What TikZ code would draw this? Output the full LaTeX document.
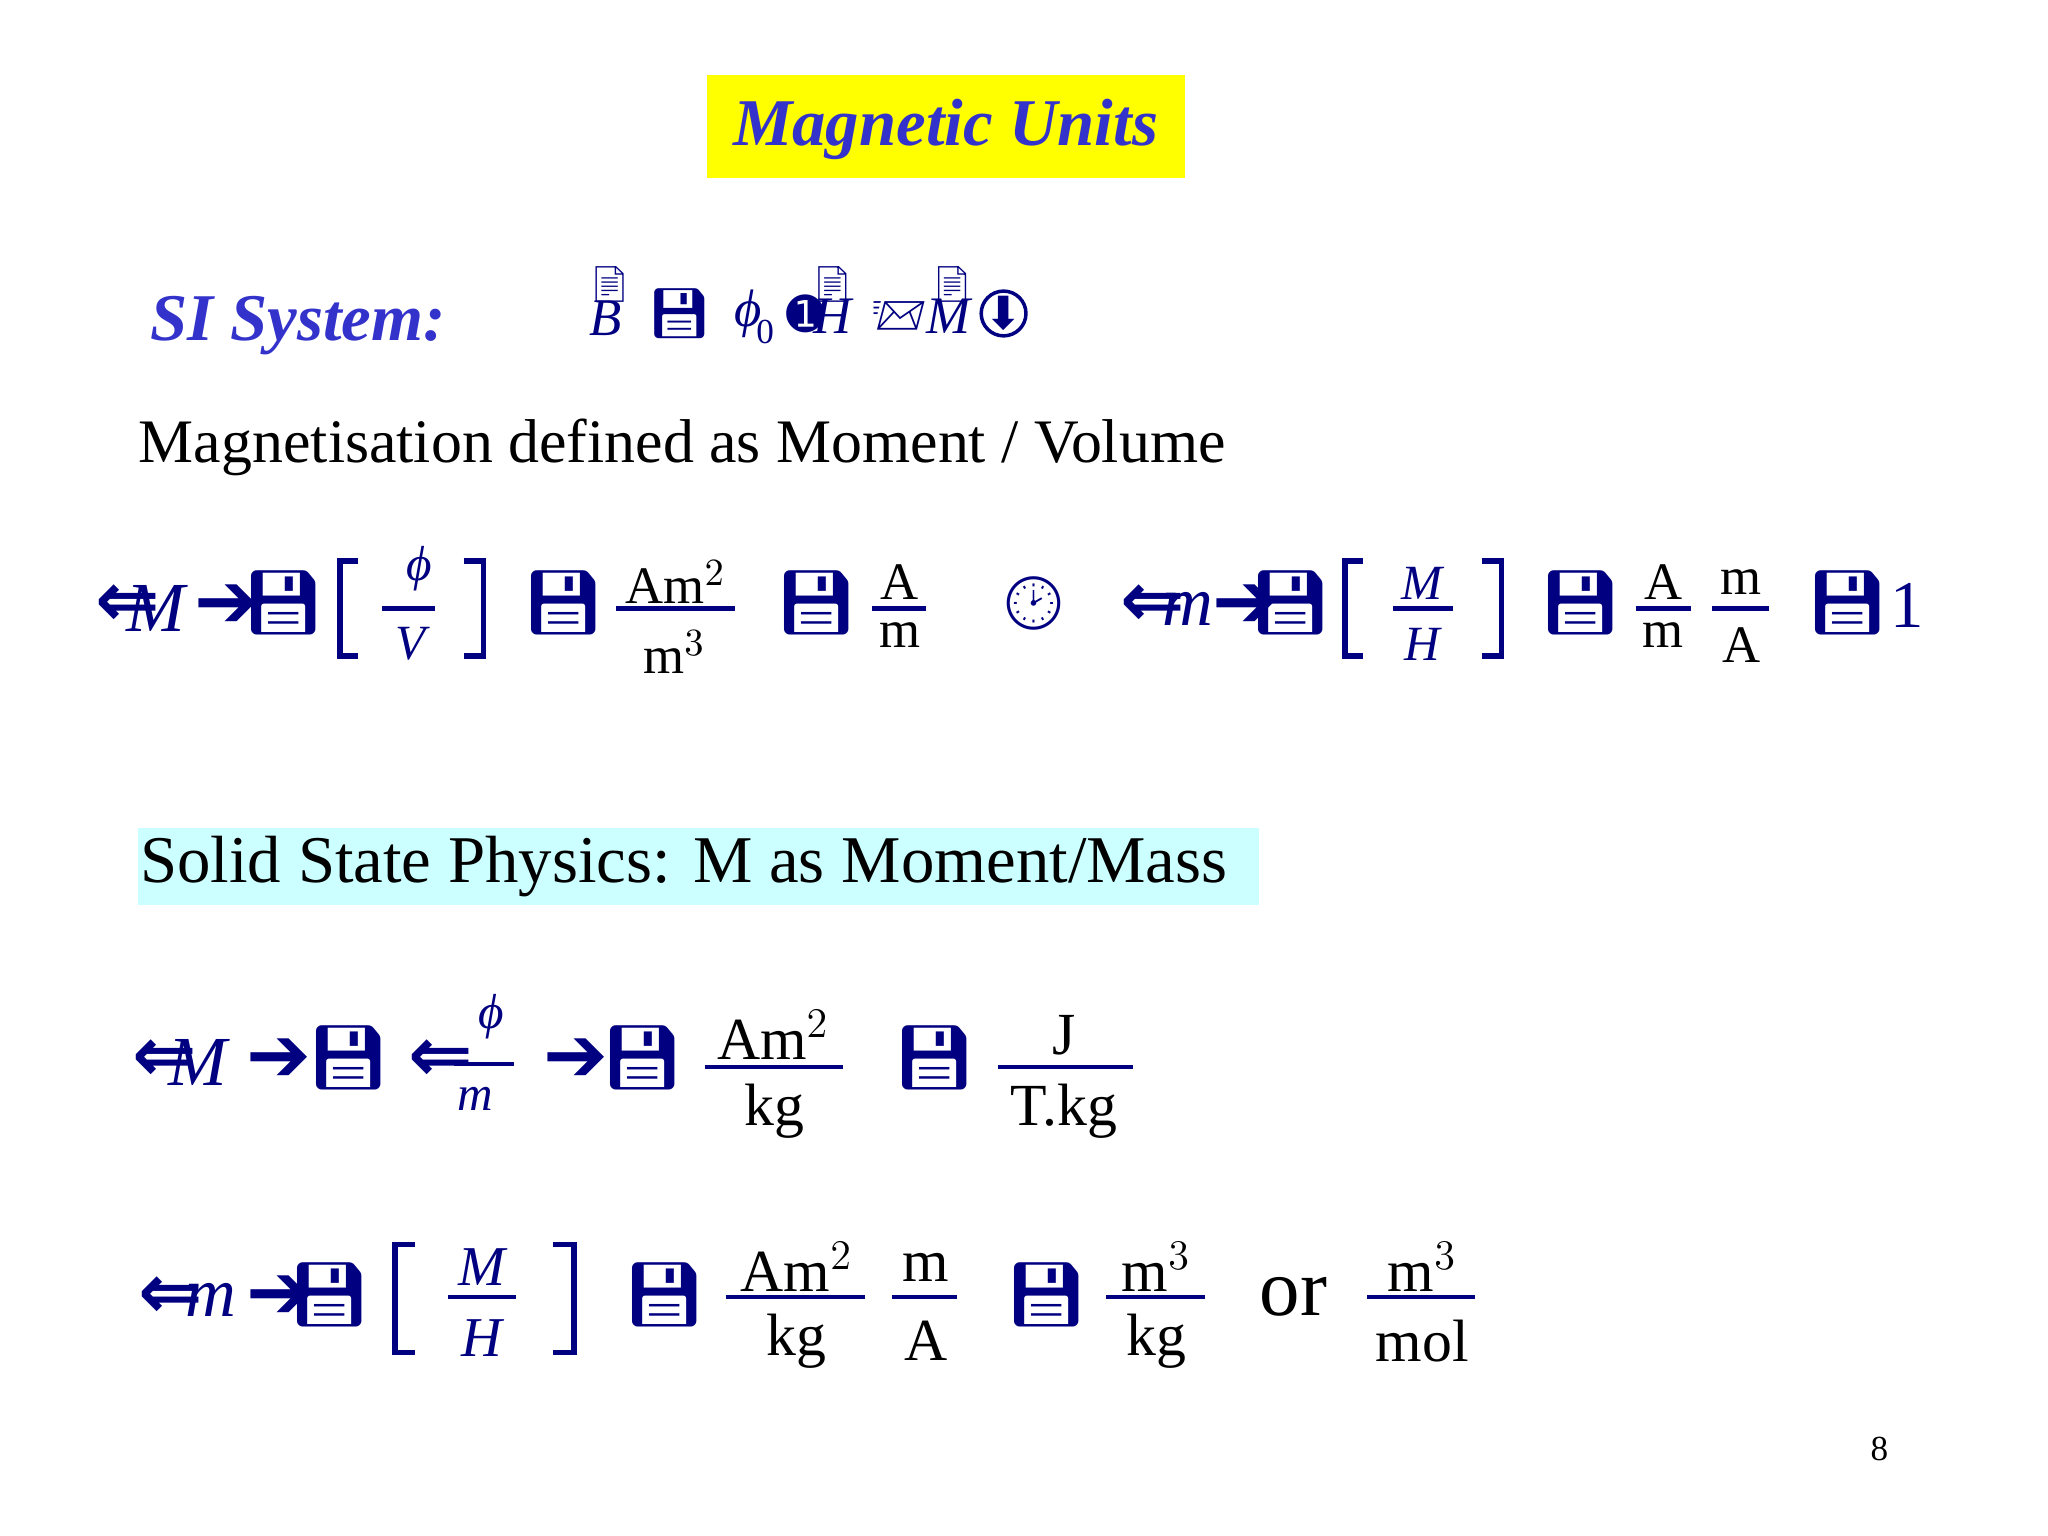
\documentclass[tikz,border=0pt]{standalone}
\usepackage{fontspec}
\setmainfont{Liberation Serif}
\newfontfamily\emo{Noto Emoji}
\newfontfamily\dv{DejaVu Sans}
\definecolor{nv}{RGB}{0,0,128}
\definecolor{tb}{RGB}{51,51,204}
\definecolor{yl}{RGB}{255,255,0}
\definecolor{cy}{RGB}{204,255,255}
\begin{document}
\begin{tikzpicture}[x=0.01317cm,y=-0.01317cm,
 fl/.style={text=nv,inner sep=0pt,font=\emo\fontsize{18}{18}\selectfont},
 fa/.style={text=nv,inner sep=0pt,font=\fontsize{14}{14}\selectfont},
 fb/.style={text=black,inner sep=0pt,font=\fontsize{17}{17}\selectfont},
 fc/.style={text=black,inner sep=0pt,font=\fontsize{15}{15}\selectfont},
 ar/.style={text=nv,inner sep=0pt,font=\dv\bfseries\fontsize{22}{22}\selectfont},
 mi/.style={text=nv,inner sep=0pt,font=\itshape\fontsize{20}{20}\selectfont},
 fr/.style={nv,line width=1.2pt},
 br/.style={nv,line width=1.6pt}]
\useasboundingbox (0,0) rectangle (1555,1166);
% title
\fill[yl] (537,57) rectangle (900,135);
\node[text=tb,font=\bfseries\itshape\fontsize{19}{19}\selectfont] (title) at (718,98) {Magnetic Units};
\node[anchor=west,text=tb,font=\bfseries\itshape\fontsize{19}{19}\selectfont] (si) at (105,247) {SI System:};
% garbled SI formula
\node[mi,font=\itshape\fontsize{15}{15}\selectfont] (b) at (460,242) {B};
\node[fl,font=\emo\fontsize{10}{10}\selectfont] (d1) at (463,216) {📄};
\node[fl,font=\emo\fontsize{14}{14}\selectfont] (f0) at (516,238) {💾};
\node[mi,font=\itshape\fontsize{15}{15}\selectfont] (mu) at (568,238) {ϕ};
\node[text=nv,inner sep=0pt,font=\fontsize{10}{10}\selectfont] (z) at (581,252) {0};
\node[ar,font=\dv\fontsize{13}{13}\selectfont] (o1) at (612,238) {➊};
\node[mi,font=\itshape\fontsize{15}{15}\selectfont] (h) at (632,240) {H};
\node[fl,font=\emo\fontsize{10}{10}\selectfont] (d2) at (632,216) {📄};
\node[fl,font=\emo\fontsize{13}{13}\selectfont] (d3) at (683,240) {📨};
\node[mi,font=\itshape\fontsize{15}{15}\selectfont] (m0) at (720,240) {M};
\node[fl,font=\emo\fontsize{10}{10}\selectfont] (d4) at (723,216) {📄};
\node[ar,font=\dv\fontsize{13}{13}\selectfont] (o2) at (762,238) {⬇};
\draw[nv,line width=1pt] (762,238) circle (17);
% text
\node[fb,anchor=west,font=\fontsize{17.6}{17.6}\selectfont] (mag) at (105,340) {Magnetisation defined as Moment / Volume};
% row 1
\node[ar] (a1) at (97,460) {⇐};
\node[mi] (a1m) at (118,462) {M};
\node[ar] (a1r) at (172,460) {➔};
\node[fl] (f1) at (215,458) {💾};
\draw[br] (272,426) -- (258,426) -- (258,498) -- (272,498);
\node[fa] (p1) at (318,432) {\itshape ϕ};
\draw[fr] (290,462) -- (330,462);
\node[fa] (v1) at (312,489) {\itshape V};
\draw[br] (352,426) -- (367,426) -- (367,498) -- (352,498);
\node[fl] (f2) at (428,458) {💾};
\node[fc] (n1) at (513,442) {Am$^2$};
\draw[fr] (468,462) -- (558,462);
\node[fc] (d1b) at (512,495) {m$^3$};
\node[fl] (f3) at (620,458) {💾};
\node[fc] (n2) at (683,442) {A};
\draw[fr] (662,462) -- (703,462);
\node[fc] (d2b) at (683,482) {m};
\node[fl,font=\emo\fontsize{15}{15}\selectfont] (clk) at (785,458) {🕑};
\node[ar] (a2) at (875,460) {⇐};
\node[mi] (a2m) at (902,462) {m};
\node[ar] (a2r) at (945,460) {➔};
\node[fl] (f4) at (980,458) {💾};
\draw[br] (1035,426) -- (1021,426) -- (1021,498) -- (1035,498);
\node[fa] (m1) at (1080,443) {\itshape M};
\draw[fr] (1058,462) -- (1103,462);
\node[fa] (h1) at (1080,489) {\itshape H};
\draw[br] (1125,426) -- (1140,426) -- (1140,498) -- (1125,498);
\node[fl] (f5) at (1200,458) {💾};
\node[fc] (n3) at (1263,442) {A};
\draw[fr] (1242,462) -- (1284,462);
\node[fc] (d3b) at (1263,482) {m};
\node[fc] (n4) at (1322,442) {m};
\draw[fr] (1300,462) -- (1343,462);
\node[fc] (d4b) at (1322,490) {A};
\node[fl] (f6) at (1403,458) {💾};
\node[mi,font=\fontsize{19}{19}\selectfont] (one) at (1448,460) {1};
% solid state
\fill[cy] (105,629) rectangle (956,687);
\node[fb,anchor=west,font=\fontsize{19}{19}\selectfont] (ss) at (106,658) {Solid State Physics: M as Moment/Mass};
% row 2
\node[ar] (b1) at (125,805) {⇐};
\node[mi] (b1m) at (150,807) {M};
\node[ar] (b1r) at (212,805) {➔};
\node[fl] (g1) at (265,803) {💾};
\node[ar] (b2) at (335,805) {⇐};
\node[fa] (p2) at (373,772) {\itshape ϕ};
\draw[fr] (345,808) -- (390,808);
\node[fa] (m2) at (361,834) {\itshape m};
\node[ar] (b2r) at (437,805) {➔};
\node[fl] (g2) at (488,803) {💾};
\node[fb] (n5) at (587,786) {Am$^2$};
\draw[fr] (535,810) -- (640,810);
\node[fb] (d5) at (588,844) {kg};
\node[fl] (g3) at (710,803) {💾};
\node[fb] (n6) at (808,786) {J};
\draw[fr] (758,810) -- (860,810);
\node[fb] (d6) at (808,844) {T.kg};
% row 3
\node[ar] (c1) at (130,985) {⇐};
\node[mi] (c1m) at (160,987) {m};
\node[ar] (c1r) at (212,985) {➔};
\node[fl] (h2) at (250,983) {💾};
\draw[br] (315,945) -- (300,945) -- (300,1027) -- (315,1027);
\node[fa,font=\fontsize{16}{16}\selectfont] (m3) at (366,962) {\itshape M};
\draw[fr] (340,985) -- (392,985);
\node[fa,font=\fontsize{16}{16}\selectfont] (h3) at (366,1016) {\itshape H};
\draw[br] (420,945) -- (436,945) -- (436,1027) -- (420,1027);
\node[fl] (h4) at (505,983) {💾};
\node[fb] (n7) at (605,962) {Am$^2$};
\draw[fr] (551,985) -- (657,985);
\node[fb] (d7) at (605,1018) {kg};
\node[fb] (n8) at (703,962) {m};
\draw[fr] (677,985) -- (727,985);
\node[fb] (d8) at (703,1018) {A};
\node[fl] (h5) at (795,983) {💾};
\node[fb] (n9) at (878,962) {m$^3$};
\draw[fr] (840,985) -- (915,985);
\node[fb] (d9) at (878,1018) {kg};
\node[fb,font=\fontsize{23}{23}\selectfont] (or) at (982,985) {or};
\node[fb] (n10) at (1080,962) {m$^3$};
\draw[fr] (1038,985) -- (1120,985);
\node[fb] (d10) at (1080,1018) {mol};
\node[fb,font=\fontsize{10}{10}\selectfont] (pg) at (1427,1100) {8};
\end{tikzpicture}
\end{document}
